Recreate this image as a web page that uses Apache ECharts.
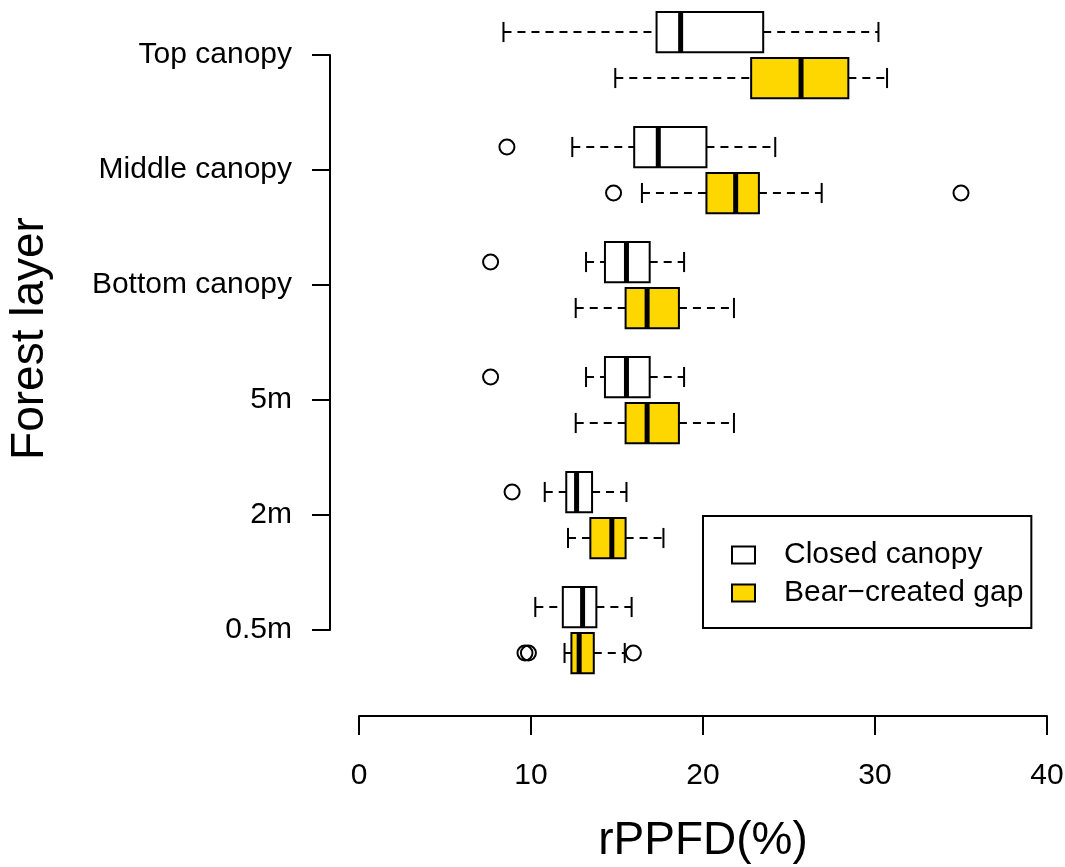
<!doctype html>
<html>
<head>
<meta charset="utf-8">
<title>rPPFD by forest layer</title>
<script src="https://cdn.jsdelivr.net/npm/echarts@6/dist/echarts.min.js"></script>
<style>
  html, body { margin: 0; padding: 0; background: #fff; }
  #container { width: 1065px; height: 867px; }
</style>
</head>
<body>
<div id="container"></div>
<script type="text/javascript">
// forest layers, top to bottom
var layers = ['Top canopy', 'Middle canopy', 'Bottom canopy', '5m', '2m', '0.5m'];

// [lower whisker, Q1, median, Q3, upper whisker] per layer
var closedStats = [
  [8.4, 17.3, 18.7, 23.5, 30.2],
  [12.4, 16.0, 17.4, 20.2, 24.2],
  [13.2, 14.3, 15.55, 16.9, 18.9],
  [13.2, 14.3, 15.55, 16.9, 18.9],
  [10.8, 12.05, 12.65, 13.55, 15.55],
  [10.25, 11.85, 13.0, 13.8, 15.85]
];
var gapStats = [
  [14.9, 22.8, 25.7, 28.45, 30.7],
  [16.45, 20.2, 21.9, 23.25, 26.9],
  [12.6, 15.5, 16.75, 18.6, 21.8],
  [12.6, 15.5, 16.75, 18.6, 21.8],
  [12.15, 13.45, 14.7, 15.5, 17.7],
  [11.95, 12.35, 12.8, 13.65, 15.45]
];

// outliers: [layer index, value]
var closedOutliers = [[1, 8.6], [2, 7.65], [3, 7.65], [4, 8.9]];
var gapOutliers = [[1, 14.8], [1, 35.0], [5, 9.65], [5, 9.85], [5, 15.95]];

var xTicks = [0, 10, 20, 30, 40];

var groupNames = ['Closed canopy', 'Bear\u2212created gap'];
var groupColors = ['#ffffff', '#FFD700'];
var groupShift = [-0.2, 0.2];

var FONT = 'Liberation Sans, Arial, Helvetica, sans-serif';

function boxData(stats, g) {
  return stats.map(function(s, i) {
    return [i + 1 + groupShift[g]].concat(s);
  });
}

function outlierData(list, g) {
  return list.map(function(o) {
    return [o[1], o[0] + 1 + groupShift[g]];
  });
}

function renderBox(params, api) {
  var y = api.value(0);
  var pLo = api.coord([api.value(1), y]);
  var pQ1 = api.coord([api.value(2), y]);
  var pMed = api.coord([api.value(3), y]);
  var pQ3 = api.coord([api.value(4), y]);
  var pHi = api.coord([api.value(5), y]);
  var h = api.size([0, 0.35])[1];
  var cy = pLo[1];
  var fill = api.visual('color');
  var dash = { stroke: '#000', lineWidth: 2, lineDash: [8, 6] };
  var solid = { stroke: '#000', lineWidth: 2 };
  return {
    type: 'group',
    children: [
      { type: 'line', shape: { x1: pLo[0], y1: cy, x2: pQ1[0], y2: cy }, style: dash },
      { type: 'line', shape: { x1: pQ3[0], y1: cy, x2: pHi[0], y2: cy }, style: dash },
      { type: 'line', shape: { x1: pLo[0], y1: cy - h / 4, x2: pLo[0], y2: cy + h / 4 }, style: solid },
      { type: 'line', shape: { x1: pHi[0], y1: cy - h / 4, x2: pHi[0], y2: cy + h / 4 }, style: solid },
      {
        type: 'rect',
        shape: { x: pQ1[0], y: cy - h / 2, width: pQ3[0] - pQ1[0], height: h },
        style: { fill: fill, stroke: '#000', lineWidth: 2 }
      },
      {
        type: 'line',
        shape: { x1: pMed[0], y1: cy - h / 2, x2: pMed[0], y2: cy + h / 2 },
        style: { stroke: '#000', lineWidth: 5 }
      }
    ]
  };
}

var option = {
  animation: false,
  backgroundColor: '#fff',
  textStyle: { fontFamily: FONT },
  grid: [
    { left: 359, width: 688, top: 9, height: 667, outerBoundsMode: 'none' },
    { left: 330, width: 10, top: 55, height: 575, outerBoundsMode: 'none' }
  ],
  xAxis: [
    {
      gridIndex: 0,
      type: 'value',
      min: 0,
      max: 40,
      interval: 10,
      offset: 40,
      splitLine: { show: false },
      axisLine: { show: true, lineStyle: { color: '#000', width: 2 } },
      axisTick: { show: true, length: 19, lineStyle: { color: '#000', width: 2 } },
      axisLabel: {
        color: '#000', fontSize: 30, fontFamily: FONT, margin: 45,
        formatter: function(v) { return xTicks.indexOf(v) >= 0 ? String(v) : ''; }
      },
      name: 'rPPFD(%)',
      nameLocation: 'middle',
      nameGap: 102,
      nameTextStyle: { color: '#000', fontSize: 46, fontFamily: FONT }
    },
    { gridIndex: 1, type: 'value', show: false }
  ],
  yAxis: [
    { gridIndex: 0, type: 'value', min: 0.6, max: 6.4, inverse: true, show: false },
    {
      gridIndex: 1,
      type: 'category',
      data: layers,
      inverse: true,
      boundaryGap: false,
      axisLine: { show: true, lineStyle: { color: '#000', width: 2 } },
      axisTick: { show: true, length: 18, lineStyle: { color: '#000', width: 2 } },
      axisLabel: { color: '#000', fontSize: 30, fontFamily: FONT, margin: 38, interval: 0, padding: [4, 0, 0, 0] },
      splitLine: { show: false },
      name: 'Forest layer',
      nameLocation: 'middle',
      nameRotate: 90,
      nameGap: 277,
      nameTextStyle: { color: '#000', fontSize: 46, fontFamily: FONT, padding: [0, 0, 0, 8] }
    }
  ],
  legend: {
    orient: 'vertical',
    left: 703,
    top: 516,
    padding: [24, 8, 20, 28],
    itemGap: 8,
    itemWidth: 23,
    itemHeight: 17,
    borderColor: '#000',
    borderWidth: 2,
    borderRadius: 0,
    backgroundColor: '#fff',
    selectedMode: false,
    textStyle: { color: '#000', fontSize: 30, fontFamily: FONT, lineHeight: 30, padding: [0, 0, 0, 24] },
    data: [
      { name: groupNames[0], icon: 'rect', itemStyle: { color: groupColors[0], borderColor: '#000', borderWidth: 2 } },
      { name: groupNames[1], icon: 'rect', itemStyle: { color: groupColors[1], borderColor: '#000', borderWidth: 2 } }
    ]
  },
  series: [
    {
      name: groupNames[0],
      type: 'custom',
      xAxisIndex: 0,
      yAxisIndex: 0,
      itemStyle: { color: groupColors[0] },
      renderItem: renderBox,
      encode: { x: [1, 2, 3, 4, 5], y: 0 },
      data: boxData(closedStats, 0),
      z: 2
    },
    {
      name: groupNames[1],
      type: 'custom',
      xAxisIndex: 0,
      yAxisIndex: 0,
      itemStyle: { color: groupColors[1] },
      renderItem: renderBox,
      encode: { x: [1, 2, 3, 4, 5], y: 0 },
      data: boxData(gapStats, 1),
      z: 2
    },
    {
      name: 'closed outliers',
      type: 'scatter',
      xAxisIndex: 0,
      yAxisIndex: 0,
      symbol: 'circle',
      symbolSize: 15,
      itemStyle: { color: 'rgba(0,0,0,0)', borderColor: '#000', borderWidth: 2, opacity: 1 },
      data: outlierData(closedOutliers, 0),
      z: 3
    },
    {
      name: 'gap outliers',
      type: 'scatter',
      xAxisIndex: 0,
      yAxisIndex: 0,
      symbol: 'circle',
      symbolSize: 15,
      itemStyle: { color: 'rgba(0,0,0,0)', borderColor: '#000', borderWidth: 2, opacity: 1 },
      data: outlierData(gapOutliers, 1),
      z: 3
    }
  ]
};

var myChart = echarts.init(document.getElementById('container'));
myChart.setOption(option);
</script>
</body>
</html>
